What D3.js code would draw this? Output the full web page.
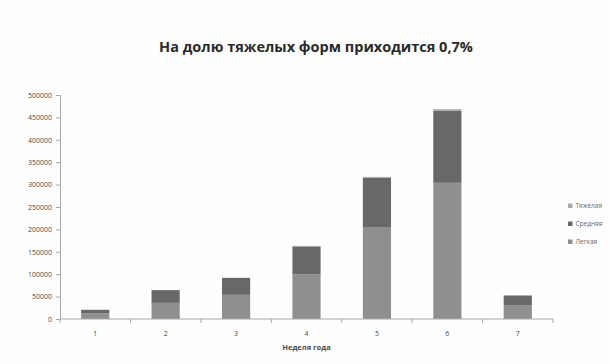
<!DOCTYPE html>
<html>
<head>
<meta charset="utf-8">
<script src="https://cdn.jsdelivr.net/npm/d3@7/dist/d3.min.js"></script>
<style>
  html, body { margin: 0; padding: 0; background: #fefefe; }
  svg { display: block; }
</style>
</head>
<body>
<svg id="chart" width="609" height="364"></svg>
<script>
// Weeks of the year
const weeks = ["1", "2", "3", "4", "5", "6", "7"];
// Cases by severity per week
const mild = [13000, 36000, 54000, 100000, 204000, 304000, 30000];     // Легкая
const moderate = [7500, 28500, 37500, 62000, 111000, 161000, 22500];   // Средняя
const severe = [100, 400, 600, 1100, 2200, 3300, 400];                 // Тяжелая
const seriesNames = ["Легкая", "Средняя", "Тяжелая"];
const yTicks = [0, 50000, 100000, 150000, 200000, 250000, 300000, 350000, 400000, 450000, 500000];
const titleText = "На долю тяжелых форм приходится 0,7%";
const xTitle = "Неделя года";

const colors = { "Легкая": "#8f8f8f", "Средняя": "#686868", "Тяжелая": "#a9a9a9" };

const svg = d3.select("#chart");
const margin = { left: 60, right: 56, top: 95, bottom: 45 };
const W = 609, H = 364;
const plotW = W - margin.left - margin.right;
const plotH = H - margin.top - margin.bottom;

const rows = weeks.map((w, i) => ({ week: w, "Легкая": mild[i], "Средняя": moderate[i], "Тяжелая": severe[i] }));
const stacked = d3.stack().keys(seriesNames)(rows);

const x = d3.scaleBand().domain(weeks).range([0, plotW]).paddingInner(0.6).paddingOuter(0.3);
const y = d3.scaleLinear().domain([0, 500000]).range([plotH, 0]);

const g = svg.append("g").attr("transform", `translate(${margin.left},${margin.top})`);

// Title
svg.append("text")
  .attr("x", 316).attr("y", 52)
  .attr("text-anchor", "middle")
  .attr("font-family", "Open Sans, sans-serif")
  .attr("font-weight", "bold")
  .attr("font-size", 14.5)
  .attr("fill", "#2a2a2a")
  .text(titleText);

// Stacked bars
g.selectAll("g.series").data(stacked).join("g")
  .attr("class", "series")
  .attr("fill", d => colors[d.key])
  .selectAll("rect").data(d => d).join("rect")
  .attr("x", d => x(d.data.week))
  .attr("width", x.bandwidth())
  .attr("y", d => y(d[1]))
  .attr("height", d => y(d[0]) - y(d[1]));

// Y axis
const yAxis = d3.axisLeft(y).tickValues(yTicks).tickSize(4).tickFormat(d3.format("d"));
const ya = g.append("g").call(yAxis);
ya.select(".domain").attr("stroke", "#a8a8a8");
ya.selectAll(".tick line").attr("stroke", "#a8a8a8");
ya.selectAll(".tick text")
  .attr("font-family", "Open Sans, sans-serif")
  .attr("font-size", 7)
  .attr("fill", "#4a4a4a")
  .attr("x", -8);

// X axis: ticks between categories
const xa = g.append("g").attr("transform", `translate(0,${plotH})`);
xa.append("line").attr("x1", 0).attr("x2", plotW).attr("stroke", "#a8a8a8");
const step = x.step();
const boundaries = d3.range(weeks.length + 1).map(i => x(weeks[0]) - x.step() * x.paddingInner() / 2 + i * step);
xa.selectAll("line.tk").data(boundaries).join("line")
  .attr("class", "tk")
  .attr("x1", d => d).attr("x2", d => d)
  .attr("y1", 0).attr("y2", 4)
  .attr("stroke", "#a8a8a8");
xa.selectAll("text.lbl").data(weeks).join("text")
  .attr("class", "lbl")
  .attr("x", d => x(d) + x.bandwidth() / 2)
  .attr("y", 17)
  .attr("text-anchor", "middle")
  .attr("font-family", "Open Sans, sans-serif")
  .attr("font-size", 7)
  .attr("fill", "#4a4a4a")
  .text(d => d);

// X axis title
svg.append("text")
  .attr("x", margin.left + x("4") + x.bandwidth() / 2)
  .attr("y", 350)
  .attr("text-anchor", "middle")
  .attr("font-family", "Open Sans, sans-serif")
  .attr("font-weight", "bold")
  .attr("font-size", 7.5)
  .attr("fill", "#4a4a4a")
  .text(xTitle);

// Legend (top item = top of stack)
const legendItems = seriesNames.slice().reverse();
const lg = svg.append("g").attr("transform", "translate(568,208)");
const li = lg.selectAll("g").data(legendItems).join("g")
  .attr("transform", (d, i) => `translate(0,${i * 18})`);
li.append("rect").attr("x", 0).attr("y", -4.5).attr("width", 4.5).attr("height", 4.5)
  .attr("fill", d => colors[d]);
li.append("text").attr("x", 7.5).attr("y", 0)
  .attr("font-family", "Open Sans, sans-serif")
  .attr("font-size", 6.5)
  .attr("fill", "#666")
  .text(d => d);
</script>
</body>
</html>
